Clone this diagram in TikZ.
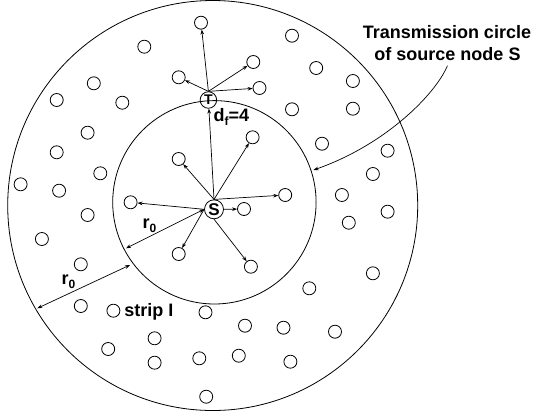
\documentclass[tikz,border=0pt]{standalone}
\usepackage{fontspec}
\setmainfont{Liberation Sans}
\usetikzlibrary{arrows.meta}
% lowered index in the label font
\newcommand{\lowidx}[1]{\raisebox{-4pt}{\fontsize{12}{12}\selectfont #1}}

\begin{document}
\begin{tikzpicture}[x=1pt,y=-1pt,
  every node/.style={font=\fontsize{18}{21}\selectfont\bfseries},
  host/.style={circle,draw,line width=0.8pt,minimum size=13pt,inner sep=0pt},
  hub/.style={circle,draw,line width=0.8pt,inner sep=0pt},
  ring/.style={line width=0.8pt},
  link/.style={line width=0.7pt,-{Stealth[length=5pt,width=3.6pt]}},
  span/.style={line width=0.7pt,{Stealth[length=5pt,width=3.6pt]}-{Stealth[length=5pt,width=3.6pt]}}]

\useasboundingbox (0,0) rectangle (536,416);

% outer ring and transmission circle of S
\draw[ring] (212.7,205.5) circle (205pt);
\draw[ring] (214.4,202.3) circle (101.7pt);

% ordinary nodes
\foreach \n/\x/\y in {
  1/201/22.7, 2/292/35.7, 3/144.3/46.7, 4/253.3/62, 5/316.2/68,
  6/178.7/77.3, 7/259.5/88, 8/352.9/81, 9/93.8/83.3, 10/56.7/100,
  11/122.3/102.7, 12/292/109.3, 13/352.9/108.7, 14/252.6/137.3, 15/87.6/132.7,
  16/322/143.7, 17/387.6/150.7, 18/56.7/152.3, 19/178.7/159, 20/100.3/173.3,
  21/372.9/174, 22/20.6/184.3, 23/59.1/190.7, 24/341.9/195, 25/285.2/195,
  26/130.6/202.3, 27/244/209, 28/387.6/211.7, 29/87.6/215, 30/348.8/222.7,
  31/41.9/239, 32/178.7/254, 33/250.9/266.7, 34/80.8/264.3, 35/372.9/273.3,
  36/309.3/288.3, 37/80.8/306, 38/113.4/310.7, 39/205.5/312.3, 40/245/325.7,
  41/283.5/327.7, 42/335/331.7, 43/154.6/338.3, 44/108.2/349, 45/199.3/358.3,
  46/238.8/355.7, 47/154.6/362.7, 48/290.4/361.7, 49/206.2/396.7}
  \node[host] (c\n) at (\x,\y) {};

% source and forwarding node
\node[hub,minimum size=19pt,font=\fontsize{17}{17}\selectfont\bfseries] (S) at (214,209.3) {S};
\node[hub,minimum size=16.5pt,font=\fontsize{14}{14}\selectfont\bfseries] (T) at (208.4,100) {T};

% broadcast from S
\draw[link] (S.north) -- (T);
\foreach \t in {14,19,25} \draw[link] (S.north) -- (c\t);
\foreach \t in {26,32} \draw[link] (S.west) -- (c\t);
\draw[link] (S.south) -- (c33);
\draw[link] (S.east) -- (c27);

% rebroadcast from T
\foreach \t in {1,6,4,7} \draw[link] (T.north) -- (c\t);

\node at (231.5,117) {d\lowidx{f}=4};

% radius markers
\coordinate (innerA) at (126,248.3);
\coordinate (innerB) at (130,265);
\coordinate (outerB) at (37.3,308.3);
\draw[span] (S.west) -- (innerA);
\draw[span] (innerB) -- (outerB);
\node at (149.5,226) {r\lowidx{0}};
\node at (68.5,282) {r\lowidx{0}};

\node at (148.8,311.5) {strip I};

% caption with pointer to the transmission circle
\node (cap1) at (447,32) {Transmission circle};
\node (cap2) at (447.5,54.5) {of source node S};
\coordinate (tip) at (313.5,170);
\draw[link] ([yshift=-1pt]cap2.south) .. controls (435,95) and (385,145) .. (tip);
\end{tikzpicture}
\end{document}
